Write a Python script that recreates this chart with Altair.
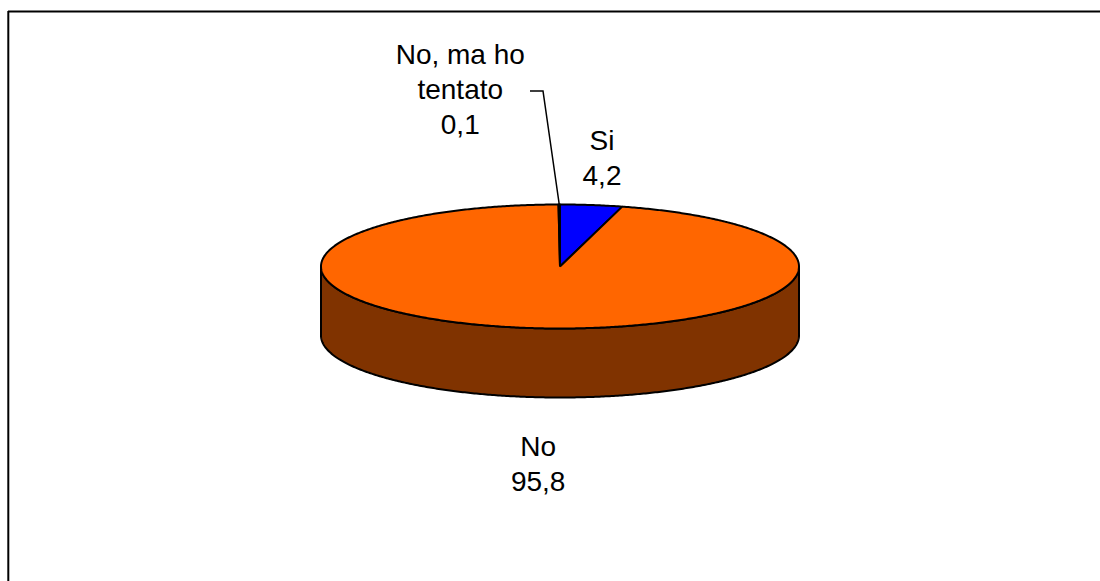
import math
import altair as alt
import pandas as pd

# ---- data ----
categories = ["Si", "No", "No, ma ho tentato"]
values = [4.2, 95.8, 0.1]
value_labels = ["4,2", "95,8", "0,1"]
name_lines = ["Si", "No", "No, ma ho\ntentato"]

# ---- styles / layout ----
top_colors = ["#0000FF", "#FF6600", "#9999FF"]
side_colors = ["#000080", "#803300", "#4D4D80"]
W, H = 1100, 581
CX, CY, RX, RY, DEPTH = 560.0, 266.5, 239.0, 62.0, 69.0
label_offsets = {"Si": (10.6, -55.0), "No": (8.8, 59.0), "No, ma ho tentato": (-99.0, -140.5)}
leader_elbow = [(543.0, 91.0), (530.0, 91.0)]
FONT = "Liberation Sans"


def pt(a_deg, drop=0.0):
    a = math.radians(a_deg)
    return CX + RX * math.sin(a), CY - RY * math.cos(a) + drop


def arc(a0, a1, drop=0.0):
    n = max(2, int(abs(a1 - a0) / 0.5) + 1)
    return [pt(a0 + (a1 - a0) * k / (n - 1), drop) for k in range(n)]


total = sum(values)
starts, ends = [], []
acc = 0.0
for v in values:
    starts.append(acc / total * 360.0)
    acc += v
    ends.append(acc / total * 360.0)

top_rows, side_rows = [], []
for i, cat in enumerate(categories):
    a0, a1 = starts[i], ends[i]
    poly = [(CX, CY)] + arc(a0, a1) + [(CX, CY)]
    for k, (x, y) in enumerate(poly):
        top_rows.append({"shape": cat, "cat": cat, "i": k, "x": x, "y": y})
    s0, s1 = max(a0, 90.0), min(a1, 270.0)
    if s0 < s1:
        upper = arc(s0, s1)
        lower = arc(s1, s0, DEPTH)
        poly = upper + lower + [upper[0]]
        for k, (x, y) in enumerate(poly):
            side_rows.append({"shape": cat, "side": cat, "i": k, "x": x, "y": y})

top_df = pd.DataFrame(top_rows)
side_df = pd.DataFrame(side_rows)

label_rows = []
for i, cat in enumerate(categories):
    mid = (starts[i] + ends[i]) / 2.0
    front = 90.0 < mid < 270.0
    x, y = pt(mid, DEPTH if front else 0.0)
    dx, dy = label_offsets[cat]
    label_rows.append({"cat": cat, "x": x + dx, "y": y + dy,
                       "text": name_lines[i] + "\n" + value_labels[i]})
label_df = pd.DataFrame(label_rows)

# leader line for the tiny slice
ti = categories.index("No, ma ho tentato")
lx, ly = pt((starts[ti] + ends[ti]) / 2.0)
leader_df = pd.DataFrame([{"i": 0, "x": lx, "y": ly}] +
                         [{"i": k + 1, "x": ex, "y": ey} for k, (ex, ey) in enumerate(leader_elbow)])

xs = alt.Scale(domain=[0, W], range=[0, W], nice=False, zero=False)
ys = alt.Scale(domain=[0, H], range=[0, H], nice=False, zero=False)
X = lambda: alt.X("x:Q", scale=xs, axis=None)
Y = lambda: alt.Y("y:Q", scale=ys, axis=None)

side = alt.Chart(side_df).mark_line(stroke="black", strokeWidth=2, strokeJoin="round").encode(
    x=X(), y=Y(), detail="shape:N", order="i:Q",
    fill=alt.Fill("side:N", scale=alt.Scale(domain=categories, range=side_colors), legend=None),
)
top = alt.Chart(top_df).mark_line(stroke="black", strokeWidth=2, strokeJoin="round").encode(
    x=X(), y=Y(), detail="shape:N", order="i:Q",
    fill=alt.Fill("cat:N", scale=alt.Scale(domain=categories, range=top_colors), legend=None),
)
leader = alt.Chart(leader_df).mark_line(color="black", strokeWidth=1.5).encode(
    x=X(), y=Y(), order="i:Q"
)
labels = alt.Chart(label_df).mark_text(
    font=FONT, fontSize=28, color="black", align="center", baseline="alphabetic",
    lineBreak="\n", lineHeight=35,
).encode(x=X(), y=Y(), text="text:N")

frame_top = alt.Chart(pd.DataFrame({"a": [0]})).mark_rule(color="black", strokeWidth=2).encode(
    x=alt.value(8), x2=alt.value(W), y=alt.value(11.5))
frame_left = alt.Chart(pd.DataFrame({"a": [0]})).mark_rule(color="black", strokeWidth=2).encode(
    x=alt.value(8.3), y=alt.value(11), y2=alt.value(H))

chart = alt.layer(side, top, leader, labels, frame_top, frame_left).resolve_scale(
    fill="independent"
).properties(
    width=W, height=H, autosize=alt.AutoSizeParams(type="none"), padding=0,
    background="white",
).configure_view(stroke=None)

chart.save("out.html", embed_options={"renderer": "svg", "actions": False})
